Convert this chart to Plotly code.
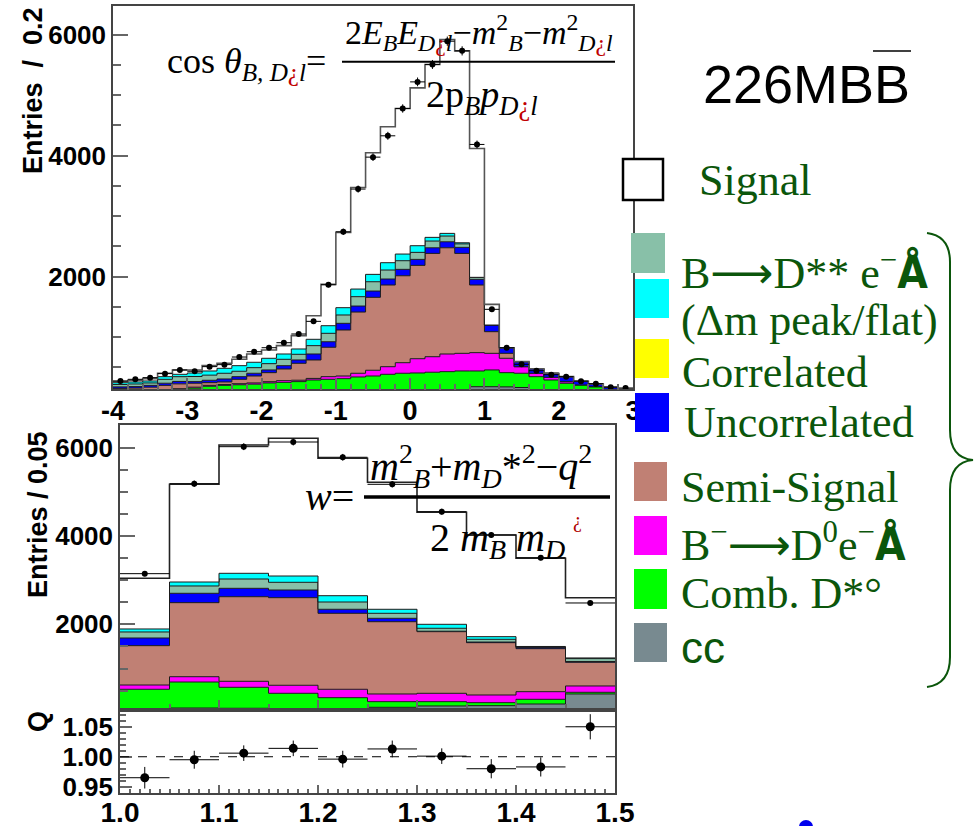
import numpy as np
import plotly.graph_objects as go

W, H = 974, 826
def px(x): return x / W
def py(y): return 1 - y / H

# ---------------- top panel: cos(theta_B,D*l), 35 bins of 0.2 in [-4, 3]
top_edges = [round(-4.0 + 0.2 * i, 2) for i in range(36)]
top_cc    = [10,12,15,18,20,25,30,35,40,45,50,55,60,70,80,90,100,110,115,120,125,125,128,130,178,178,175,165,130,100,80,60,50,40,30]
top_comb  = [45,50,60,82,110,130,155,165,170,175,190,195,202,219,220,221,239,245,268,280,280,292,299,308,260,277,235,235,214,189,154,147,128,90,70]
top_bd0   = [10,10,10,12,15,15,15,15,18,20,21,28,23,26,44,44,61,95,126,175,236,257,292,292,303,275,238,109,56,45,27,0,0,5,0]
top_semi  = [85,83,85,88,80,65,45,41,72,115,149,193,280,305,486,761,1013,1206,1351,1438,1544,1709,1757,1653,1119,358,82,0,0,0,0,0,0,0,0]
top_uncor = [25,25,30,35,40,27,39,50,44,45,45,55,55,99,92,110,99,104,99,106,99,93,99,100,94,110,93,83,76,66,83,61,45,34,30]
top_dss   = [40,43,40,65,79,85,85,94,89,93,104,105,94,138,139,138,155,154,149,143,116,111,95,57,33,0,0,0,0,0,0,0,0,0,0]
top_flat  = [30,33,33,44,39,58,69,82,93,89,89,88,88,105,126,121,126,122,121,110,110,61,44,19,0,0,0,0,0,0,0,0,0,0,0]
top_sig   = [17,28,38,56,72,50,88,83,105,137,137,138,220,390,684,1246,1681,2011,2248,2408,2611,2860,3207,3174,2132,342,0,0,0,0,0,0,0,0,10]
top_data  = [273,300,328,394,455,433,510,543,669,757,823,906,1050,1259,1865,2740,3447,3975,4328,4780,5220,5508,5893,5733,4185,1458,823,548,443,377,344,268,228,169,157]
top_xticks = [-4, -3, -2, -1, 0, 1, 2, 3]
top_xticktext = ["-4", "-3", "-2", "-1", "0", "1", "2", "3"]
top_yticks = [2000, 4000, 6000]

# ---------------- bottom panel: w, 10 bins of 0.05 in [1.0, 1.5]
w_edges = [round(1.0 + 0.05 * i, 2) for i in range(11)]
w_cc    = [91,106,100,91,91,122,152,159,197,424]
w_comb  = [439,589,475,348,249,128,98,68,106,38]
w_bd0   = [97,120,136,182,190,174,189,174,173,143]
w_semi  = [891,1677,1916,1984,1721,1637,1396,1185,974,536]
w_uncor = [174,212,190,174,91,77,10,14,30,19]
w_dss   = [136,166,211,174,165,113,67,62,10,65]
w_flat  = [68,90,129,143,143,91,90,60,10,15]
w_sig   = [1148,2213,2906,3119,3112,2877,2537,2303,1997,1365]
w_data  = [3149,5187,6025,6131,5785,5173,4553,4025,3511,2485]
w_yticks = [2000, 4000, 6000]

# ---------------- ratio pad Q
q_vals = [0.965,0.995,1.006,1.014,0.996,1.013,1.001,0.980,0.983,1.050]
q_errs = [0.018,0.015,0.013,0.013,0.014,0.014,0.013,0.016,0.016,0.021]
q_yticks = [0.95, 1.00, 1.05]
w_xticks = [1.0, 1.1, 1.2, 1.3, 1.4, 1.5]
w_xticktext = ["1.0", "1.1", "1.2", "1.3", "1.4", "1.5"]

# ---------------- legend
ARROW = "<span style='font-family:DejaVu Sans'>⟶</span>"
ANG = "<span style='font-family:DejaVu Sans Condensed;font-weight:bold'>Å</span>"
legend_labels = ["Signal", f"B{ARROW}D** e<sup>−</sup>{ANG}",
                 "(Δm peak/flat)", "Correlated", "Uncorrelated", "Semi-Signal",
                 f"B<sup>−</sup>{ARROW}D<sup>0</sup>e<sup>−</sup>{ANG}", "Comb. D*°", "cc"]

COL = dict(cc="#788a90", comb="#00ff00", bd0="#ff00ff", semi="#c08074",
           uncor="#0000ff", corr="#ffff00", dss="#88c0a8", flat="#00ffff", sig="#ffffff")
GREEN_TXT = "#0b560b"

fig = go.Figure()

def add_stack(edges, comps, xa, ya, group, top_line):
    x = list(edges)
    for i, (name, vals) in enumerate(comps):
        y = list(vals) + [vals[-1]]
        last = (i == len(comps) - 1)
        fig.add_trace(go.Scatter(
            x=x, y=y, mode="lines", stackgroup=group,
            line=dict(shape="hv", color=top_line if last else "#1a1a1a", width=1.6 if last else 1),
            fillcolor=COL[name], xaxis=xa, yaxis=ya, showlegend=False, hoverinfo="skip"))

add_stack(top_edges, [("cc", top_cc), ("comb", top_comb), ("bd0", top_bd0), ("semi", top_semi),
                      ("uncor", top_uncor), ("dss", top_dss), ("flat", top_flat), ("sig", top_sig)],
          "x", "y", "top", "#555555")
add_stack(w_edges, [("cc", w_cc), ("comb", w_comb), ("bd0", w_bd0), ("semi", w_semi),
                    ("uncor", w_uncor), ("dss", w_dss), ("flat", w_flat), ("sig", w_sig)],
          "x2", "y2", "low", "#222222")

top_centers = [round(e + 0.1, 2) for e in top_edges[:-1]]
w_centers = [round(e + 0.025, 3) for e in w_edges[:-1]]

fig.add_trace(go.Scatter(
    x=top_centers, y=top_data, mode="markers", xaxis="x", yaxis="y",
    marker=dict(color="black", size=6),
    error_x=dict(type="constant", value=0.1, thickness=1, width=0, color="black"),
    error_y=dict(type="data", array=list(np.sqrt(top_data)), thickness=1, width=0, color="black"),
    showlegend=False, hoverinfo="skip"))
fig.add_trace(go.Scatter(
    x=w_centers, y=w_data, mode="markers", xaxis="x2", yaxis="y2",
    marker=dict(color="black", size=6),
    error_x=dict(type="constant", value=0.025, thickness=1, width=0, color="black"),
    error_y=dict(type="data", array=list(np.sqrt(w_data)), thickness=1, width=0, color="black"),
    showlegend=False, hoverinfo="skip"))
fig.add_trace(go.Scatter(
    x=w_centers, y=q_vals, mode="markers", xaxis="x3", yaxis="y3",
    marker=dict(color="black", size=9),
    error_x=dict(type="constant", value=0.025, thickness=1, width=0, color="black"),
    error_y=dict(type="data", array=q_errs, thickness=1, width=0, color="black"),
    showlegend=False, hoverinfo="skip"))

TF = lambda s: dict(family="Liberation Sans", size=s, color="black", weight="bold")
axcommon = dict(showline=True, linecolor="#444", linewidth=1.5, mirror=True, showgrid=False,
                zeroline=False, ticks="inside", tickcolor="#666", tickwidth=1.5, automargin=False)

fig.update_layout(
    width=W, height=H, margin=dict(l=0, r=0, t=0, b=0, pad=0, autoexpand=False),
    paper_bgcolor="white", plot_bgcolor="white", showlegend=False,
    xaxis=dict(domain=[px(113), px(633)], anchor="y", range=[-4, 3],
               tickvals=top_xticks, ticktext=top_xticktext, ticklen=12,
               minor=dict(dtick=0.2, tick0=-4, ticklen=6, ticks="inside", tickcolor="#666"),
               tickfont=TF(27), ticklabelstandoff=-3, **axcommon),
    yaxis=dict(domain=[py(389.3), py(5.7)], anchor="x", range=[135, 6480],
               tickvals=top_yticks, ticklen=15,
               minor=dict(dtick=500, tick0=0, ticklen=8, ticks="inside", tickcolor="#666"),
               tickfont=TF(26), ticklabelstandoff=0, **axcommon),
    xaxis2=dict(domain=[px(120), px(615)], anchor="y2", range=[1.0, 1.5],
                tickvals=w_xticks, showticklabels=False, ticklen=10,
                minor=dict(dtick=0.05, tick0=1.0, ticklen=6, ticks="inside", tickcolor="#666"),
                **axcommon),
    yaxis2=dict(domain=[py(710), py(425)], anchor="x2", range=[61, 6516],
                tickvals=w_yticks, ticklen=15,
                minor=dict(dtick=500, tick0=0, ticklen=8, ticks="inside", tickcolor="#666"),
                tickfont=TF(26), ticklabelstandoff=0, **axcommon),
    xaxis3=dict(domain=[px(120), px(615)], anchor="y3", range=[1.0, 1.5],
                tickvals=w_xticks, ticktext=w_xticktext, ticklen=8,
                minor=dict(dtick=0.01, tick0=1.0, ticklen=4, ticks="inside", tickcolor="#666"),
                tickfont=TF(28), ticklabelstandoff=-6, **axcommon),
    yaxis3=dict(domain=[py(793), py(710)], anchor="x3", range=[0.9395, 1.078],
                tickvals=q_yticks, tickformat=".2f", ticklen=12,
                minor=dict(dtick=0.01, tick0=0.9, ticklen=6, ticks="inside", tickcolor="#666"),
                tickfont=TF(26), ticklabelstandoff=0, **axcommon),
)

shapes = []
shapes.append(dict(type="line", xref="x3", yref="y3", x0=1.0, x1=1.5, y0=1.0, y1=1.0,
                   line=dict(color="black", width=1, dash="dash")))
shapes.append(dict(type="line", xref="paper", yref="paper", x0=px(342), x1=px(615),
                   y0=py(61.7), y1=py(61.7), line=dict(color="black", width=2)))
shapes.append(dict(type="line", xref="paper", yref="paper", x0=px(364), x1=px(610),
                   y0=py(497), y1=py(497), line=dict(color="black", width=3.5)))
shapes.append(dict(type="line", xref="paper", yref="paper", x0=px(873), x1=px(911),
                   y0=py(51), y1=py(51), line=dict(color="black", width=1.5)))
sq = [("sig", 623, 663, 159, 200), ("dss", 631, 665, 233, 273), ("flat", 635, 669, 279, 318),
      ("corr", 635, 669, 339, 378), ("uncor", 635, 669, 393, 432), ("semi", 634, 667, 462, 501),
      ("bd0", 634, 667, 516, 555), ("comb", 634, 667, 569, 609), ("cc", 634, 667, 623, 662)]
for name, x0, x1, y0, y1 in sq:
    shapes.append(dict(type="rect", xref="paper", yref="paper", layer="above",
                       x0=px(x0), x1=px(x1), y0=py(y1), y1=py(y0), fillcolor=COL[name],
                       line=dict(color="black", width=2.5) if name == "sig" else dict(width=0)))
def P(x, y): return f"{px(x):.5f},{py(y):.5f}"
brace = (f"M {P(927,233)} Q {P(950,236)} {P(950,262)} L {P(950,430)} "
         f"Q {P(950,458)} {P(973,460)} Q {P(950,462)} {P(950,490)} L {P(950,657)} "
         f"Q {P(950,684)} {P(927,687)}")
shapes.append(dict(type="path", xref="paper", yref="paper", path=brace,
                   line=dict(color=GREEN_TXT, width=2)))
shapes.append(dict(type="circle", xref="paper", yref="paper", x0=px(799), x1=px(813),
                   y0=py(834), y1=py(820), fillcolor="#0000ee", line=dict(width=0)))
fig.update_layout(shapes=shapes)

ann = []
def A(text, x, y, size, family="Liberation Serif", color="black", xanchor="left",
      angle=0, weight="normal"):
    ann.append(dict(text=text, xref="paper", yref="paper", x=px(x), y=py(y),
                    xanchor=xanchor, yanchor="middle", showarrow=False, textangle=angle,
                    font=dict(family=family, size=size, color=color, weight=weight)))

RED = "<span style='color:#c00000'>¿</span>"
A("Entries  /  0.2", 33, 91, 27, "Liberation Sans", xanchor="center", angle=-90, weight="bold")
A("Entries / 0.05", 38, 515, 27, "Liberation Sans", xanchor="center", angle=-90, weight="bold")
A("Q", 38, 722, 27, "Liberation Sans", xanchor="center", angle=-90, weight="bold")
# top formula
A(f"cos <i>θ</i><sub><i>B, D</i>{RED}<i>l</i></sub>=", 165, 63, 36)
A(f"2<i>E</i><sub><i>B</i></sub><i>E</i><sub><i>D</i>{RED}<i>l</i></sub>−<i>m</i><sup>2</sup><sub><i>B</i></sub>−"
  f"<i>m</i><sup>2</sup><sub><i>D</i>{RED}<i>l</i></sub>", 343, 33, 34)
A(f"2p<sub><i>B</i></sub><i>p</i><sub><i>D</i>{RED}<i>l</i></sub>", 424, 97, 38)
# lower formula
A("<i>w</i>=", 303, 497, 40)
A("<i>m</i><sup>2</sup><sub><i>B</i></sub>+<i>m</i><sub><i>D</i></sub>*<sup>2</sup>−<i>q</i><sup>2</sup>", 368, 466, 40)
A("2 <i>m</i><sub><i>B</i></sub> <i>m</i><sub><i>D</i></sub>", 428, 540, 40)
A("¿", 577, 520, 20, color="#b00000", xanchor="center")
A("226MBB", 806, 84, 54, "Liberation Sans", xanchor="center")
leg_pos = [(697, 180), (679, 270), (679, 320), (680, 372), (682, 422),
           (679, 488), (679, 542), (679, 593), (679, 647)]
for lab, (x, y) in zip(legend_labels, leg_pos):
    fam = "Liberation Sans" if lab == "cc" else "Liberation Serif"
    A(lab, x, y, 44, fam, color=GREEN_TXT)
fig.update_layout(annotations=ann)

fig.write_html("out.html", config={"displayModeBar": False},
               post_script="document.body.style.margin='0px';document.body.style.padding='0px';")
